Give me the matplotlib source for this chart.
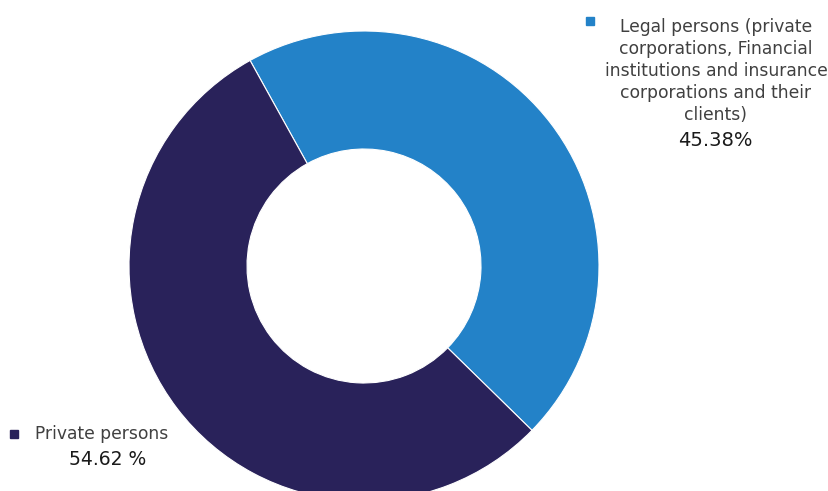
import matplotlib.pyplot as plt

# data
categories = ["Legal persons (private\ncorporations, Financial\ninstitutions and insurance\ncorporations and their\nclients)",
              "Private persons"]
shares = [45.38, 54.62]
pct_labels = ["45.38%", "54.62 %"]
colors = ["#2382C8", "#29225A"]

fig = plt.figure(figsize=(8.29, 4.91), dpi=100)
ax = fig.add_axes([0, 0, 1, 1])

ax.pie(shares, colors=colors, startangle=119.0, counterclock=False,
       center=(364, 491 - 266), radius=235, frame=True,
       wedgeprops=dict(width=118, edgecolor="white", linewidth=0.8))
ax.set_xlim(0, 829)
ax.set_ylim(0, 491)
ax.axis("off")

# Legal persons label
ax.plot(590, 491 - 21, marker="s", color=colors[0], markersize=6)
ax.text(716, 491 - 71, categories[0], ha="center", va="center", fontsize=12.3,
        color="#404040", linespacing=1.3)
ax.text(715, 491 - 140, pct_labels[0], ha="center", va="center", fontsize=14,
        color="#1a1a1a")

# Private persons label
ax.plot(14, 491 - 434, marker="s", color=colors[1], markersize=6)
ax.text(35, 491 - 434, categories[1], ha="left", va="center", fontsize=12.3,
        color="#404040")
ax.text(108, 491 - 460, pct_labels[1], ha="center", va="center", fontsize=13.5,
        color="#1a1a1a")

fig.savefig("out.png", dpi=100)
